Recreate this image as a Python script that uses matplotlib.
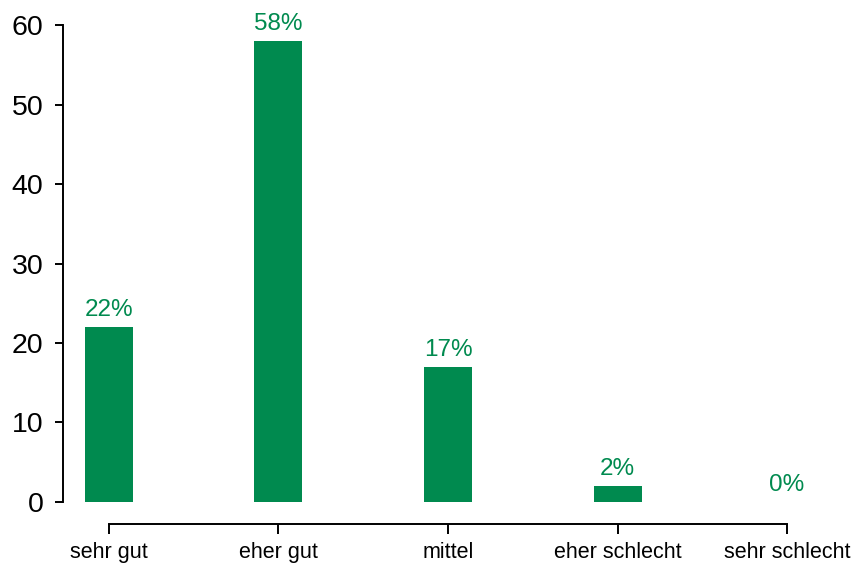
import matplotlib
matplotlib.use("Agg")
import matplotlib.pyplot as plt

plt.rcParams["font.family"] = ["Liberation Sans", "DejaVu Sans"]

# survey answers and share of respondents (%)
categories = ["sehr gut", "eher gut", "mittel", "eher schlecht", "sehr schlecht"]
shares = [22, 58, 17, 2, 0]
value_labels = ["22%", "58%", "17%", "2%", "0%"]
y_ticks = [0, 10, 20, 30, 40, 50, 60]

green = "#008a4f"

fig = plt.figure(figsize=(8.51, 5.66), dpi=100)
ax = fig.add_axes([0.074, 0.1131, 0.9107, 0.8427])

x = range(len(categories))
bars = ax.bar(x, shares, width=0.283, color=green)

for bar, lbl in zip(bars, value_labels):
    ax.annotate(lbl, (bar.get_x() + bar.get_width() / 2, bar.get_height()),
                xytext=(0, 8), textcoords="offset points",
                ha="center", va="baseline", color=green, fontsize=17.5,
                annotation_clip=False)

ax.set_xlim(-0.271, 4.3)
ax.set_ylim(0, 60)
ax.set_yticks(y_ticks)
ax.set_xticks(list(x))
ax.set_xticklabels(categories)
ax.tick_params(axis="y", labelsize=20.5, length=6, width=1.4, pad=8)
ax.tick_params(axis="x", labelsize=15.5, length=7, width=1.4, pad=6)

for side in ["top", "right"]:
    ax.spines[side].set_visible(False)
ax.spines["left"].set_bounds(0, 60)
ax.spines["left"].set_linewidth(1.4)
ax.spines["bottom"].set_position(("outward", 16))
ax.spines["bottom"].set_bounds(0, 4)
ax.spines["bottom"].set_linewidth(1.4)

fig.savefig("out.png", dpi=100)
